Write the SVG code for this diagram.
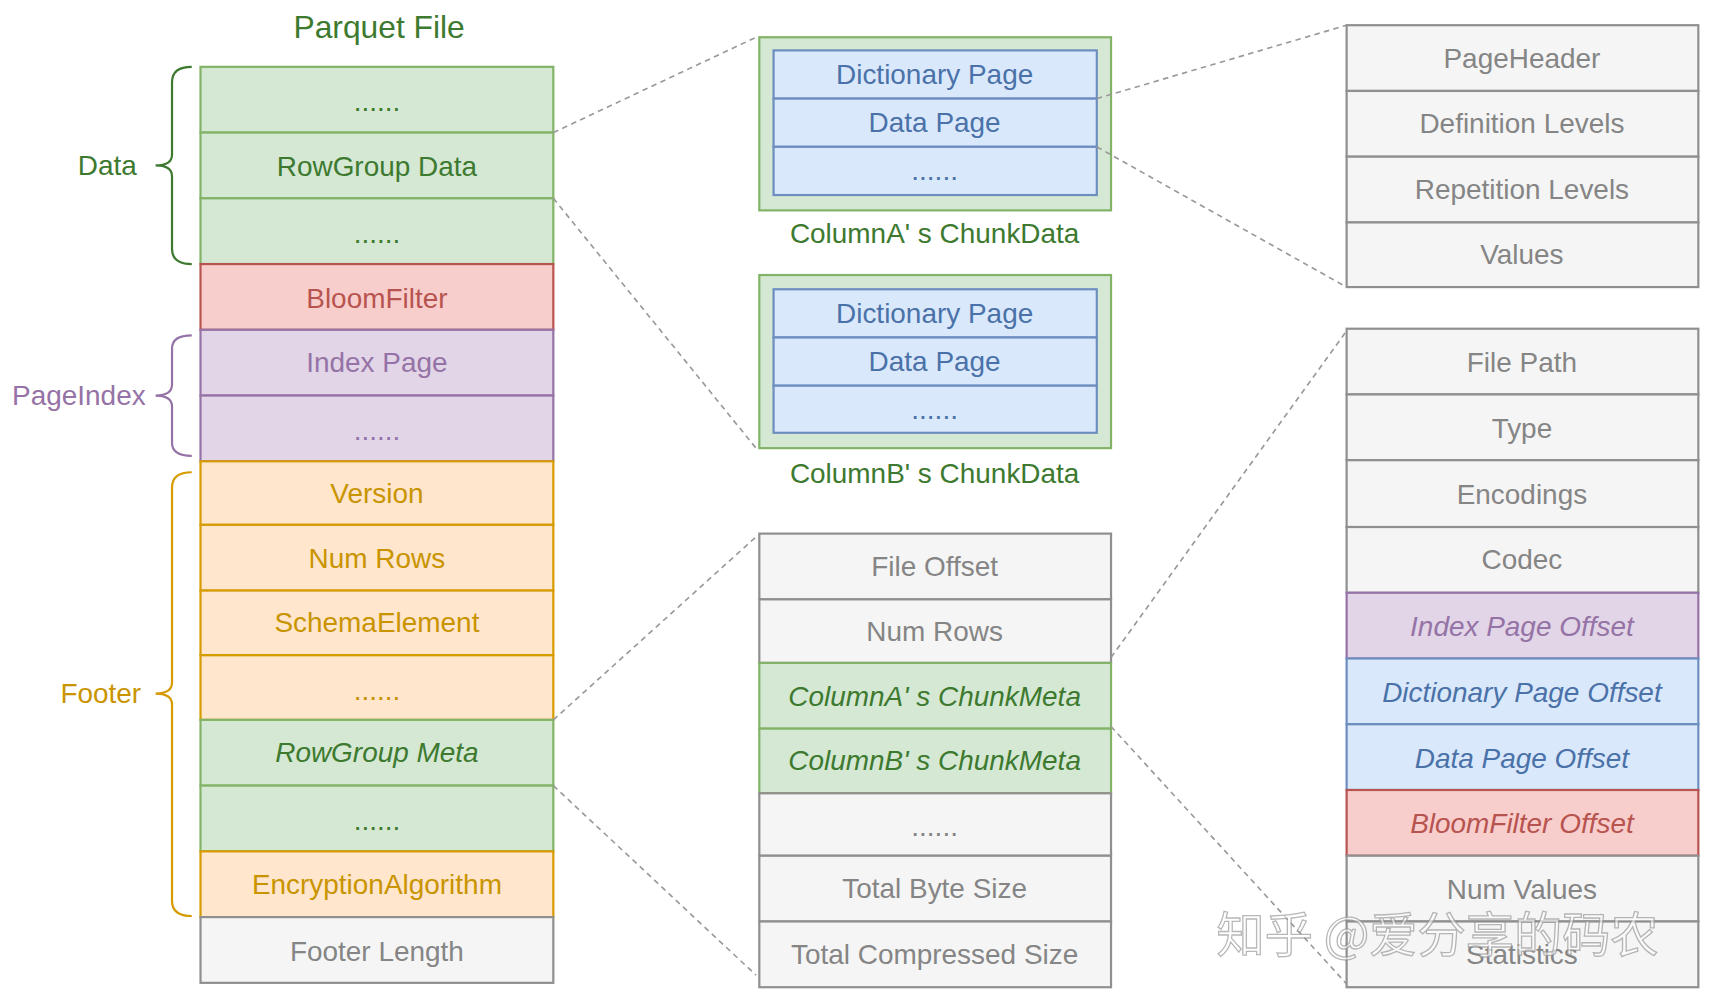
<svg xmlns="http://www.w3.org/2000/svg" width="1718" height="1002" viewBox="0 0 1718 1002">
<style>
text{font-family:"Liberation Sans",Arial,sans-serif;font-size:25.5px;text-anchor:middle;dominant-baseline:central}
.g rect{fill:#d5e8d4;stroke:#82b366;stroke-width:2}.g text{fill:#3d7a2f}
.r rect{fill:#f8cecc;stroke:#b85450;stroke-width:2}.r text{fill:#b85450}
.p rect{fill:#e1d5e7;stroke:#9673a6;stroke-width:2}.p text{fill:#9673a6}
.o rect{fill:#ffe6cc;stroke:#d79b00;stroke-width:2}.o text{fill:#c99400}
.w rect{fill:#f5f5f5;stroke:#8f8f8f;stroke-width:2}.w text{fill:#858585}
.b rect{fill:#dae8fc;stroke:#6c8ebf;stroke-width:2}.b text{fill:#4a72a8}
.i text{font-style:italic}
.dash{fill:none;stroke:#999;stroke-width:1.5;stroke-dasharray:5 4}
.brace{fill:none;stroke-width:2}
</style>
<rect width="1718" height="1002" fill="#fff"/>
<g transform="scale(1.0957)">
<text x="346" y="25" style="font-size:29px;fill:#3d7a2f">Parquet File</text>
<g id="braces">
<path class="brace" stroke="#3d7a2f" d="M175 61Q157 61 157 75V141Q157 151 142 151Q157 151 157 161V227Q157 241 175 241"/>
<text x="98" y="151" style="fill:#3d7a2f">Data</text>
<path class="brace" stroke="#9673a6" d="M175 306Q157 306 157 318V351Q157 361 142 361Q157 361 157 371V404Q157 416 175 416"/>
<text x="72" y="361" style="fill:#9673a6">PageIndex</text>
<path class="brace" stroke="#d79b00" d="M175 431Q157 431 157 445V623Q157 633 142 633Q157 633 157 643V822Q157 836 175 836"/>
<text x="92" y="633" style="fill:#c99400">Footer</text>
</g>
<g id="parquet-file">
<g class="g"><rect x="183" y="61" width="322" height="60"/><text x="344" y="93">......</text></g>
<g class="g"><rect x="183" y="121" width="322" height="60"/><text x="344" y="152">RowGroup Data</text></g>
<g class="g"><rect x="183" y="181" width="322" height="60"/><text x="344" y="213">......</text></g>
<g class="r"><rect x="183" y="241" width="322" height="60"/><text x="344" y="272">BloomFilter</text></g>
<g class="p"><rect x="183" y="301" width="322" height="60"/><text x="344" y="331">Index Page</text></g>
<g class="p"><rect x="183" y="361" width="322" height="60"/><text x="344" y="393">......</text></g>
<g class="o"><rect x="183" y="421" width="322" height="58"/><text x="344" y="450">Version</text></g>
<g class="o"><rect x="183" y="479" width="322" height="60"/><text x="344" y="510">Num Rows</text></g>
<g class="o"><rect x="183" y="539" width="322" height="59"/><text x="344" y="568">SchemaElement</text></g>
<g class="o"><rect x="183" y="598" width="322" height="59"/><text x="344" y="630">......</text></g>
<g class="g i"><rect x="183" y="657" width="322" height="60"/><text x="344" y="687">RowGroup Meta</text></g>
<g class="g"><rect x="183" y="717" width="322" height="60"/><text x="344" y="749">......</text></g>
<g class="o"><rect x="183" y="777" width="322" height="60"/><text x="344" y="807">EncryptionAlgorithm</text></g>
<g class="w"><rect x="183" y="837" width="322" height="60"/><text x="344" y="868">Footer Length</text></g>
</g>
<g id="columnA">
<rect x="693" y="34" width="321" height="158" fill="#d5e8d4" stroke="#82b366" stroke-width="2"/>
<g class="b"><rect x="706" y="46" width="295" height="44"/><text x="853" y="68">Dictionary Page</text></g>
<g class="b"><rect x="706" y="90" width="295" height="44"/><text x="853" y="112">Data Page</text></g>
<g class="b"><rect x="706" y="134" width="295" height="44"/><text x="853" y="156">......</text></g>
<text x="853" y="213" style="fill:#3d7a2f">ColumnA' s ChunkData</text>
</g>
<g id="columnB">
<rect x="693" y="251" width="321" height="158" fill="#d5e8d4" stroke="#82b366" stroke-width="2"/>
<g class="b"><rect x="706" y="264" width="295" height="44"/><text x="853" y="286">Dictionary Page</text></g>
<g class="b"><rect x="706" y="308" width="295" height="44"/><text x="853" y="330">Data Page</text></g>
<g class="b"><rect x="706" y="352" width="295" height="43"/><text x="853" y="374">......</text></g>
<text x="853" y="432" style="fill:#3d7a2f">ColumnB' s ChunkData</text>
</g>
<g id="rowgroup-meta">
<g class="w"><rect x="693" y="487" width="321" height="60"/><text x="853" y="517">File Offset</text></g>
<g class="w"><rect x="693" y="547" width="321" height="58"/><text x="853" y="576">Num Rows</text></g>
<g class="g i"><rect x="693" y="605" width="321" height="60"/><text x="853" y="636">ColumnA' s ChunkMeta</text></g>
<g class="g i"><rect x="693" y="665" width="321" height="59"/><text x="853" y="694">ColumnB' s ChunkMeta</text></g>
<g class="w"><rect x="693" y="724" width="321" height="57"/><text x="853" y="754">......</text></g>
<g class="w"><rect x="693" y="781" width="321" height="60"/><text x="853" y="811">Total Byte Size</text></g>
<g class="w"><rect x="693" y="841" width="321" height="60"/><text x="853" y="871">Total Compressed Size</text></g>
</g>
<g id="page">
<g class="w"><rect x="1229" y="23" width="321" height="60"/><text x="1389" y="53">PageHeader</text></g>
<g class="w"><rect x="1229" y="83" width="321" height="60"/><text x="1389" y="113">Definition Levels</text></g>
<g class="w"><rect x="1229" y="143" width="321" height="60"/><text x="1389" y="173">Repetition Levels</text></g>
<g class="w"><rect x="1229" y="203" width="321" height="59"/><text x="1389" y="232">Values</text></g>
</g>
<g id="chunk-meta">
<g class="w"><rect x="1229" y="300" width="321" height="60"/><text x="1389" y="331">File Path</text></g>
<g class="w"><rect x="1229" y="360" width="321" height="60"/><text x="1389" y="391">Type</text></g>
<g class="w"><rect x="1229" y="420" width="321" height="61"/><text x="1389" y="451">Encodings</text></g>
<g class="w"><rect x="1229" y="481" width="321" height="60"/><text x="1389" y="511">Codec</text></g>
<g class="p i"><rect x="1229" y="541" width="321" height="60"/><text x="1389" y="572">Index Page Offset</text></g>
<g class="b i"><rect x="1229" y="601" width="321" height="60"/><text x="1389" y="632">Dictionary Page Offset</text></g>
<g class="b i"><rect x="1229" y="661" width="321" height="60"/><text x="1389" y="692">Data Page Offset</text></g>
<g class="r i"><rect x="1229" y="721" width="321" height="60"/><text x="1389" y="752">BloomFilter Offset</text></g>
<g class="w"><rect x="1229" y="781" width="321" height="60"/><text x="1389" y="812">Num Values</text></g>
<g class="w"><rect x="1229" y="841" width="321" height="60"/><text x="1389" y="871">Statistics</text></g>
</g>
<g id="connectors">
<path class="dash" d="M505 121L690 34M505 181L690 409M1001 90L1229 23M1001 134L1229 262M505 657L690 490M505 717L690 890M1014 600L1229 302M1014 663L1229 898"/>
</g>
<text x="1312" y="850" style="font-family:'Noto Sans CJK SC',sans-serif;font-size:44px;fill:#fff;fill-opacity:0.6;stroke:#888;stroke-opacity:0.6;stroke-width:1.2">知乎 @爱分享的码农</text>
</g>
</svg>
